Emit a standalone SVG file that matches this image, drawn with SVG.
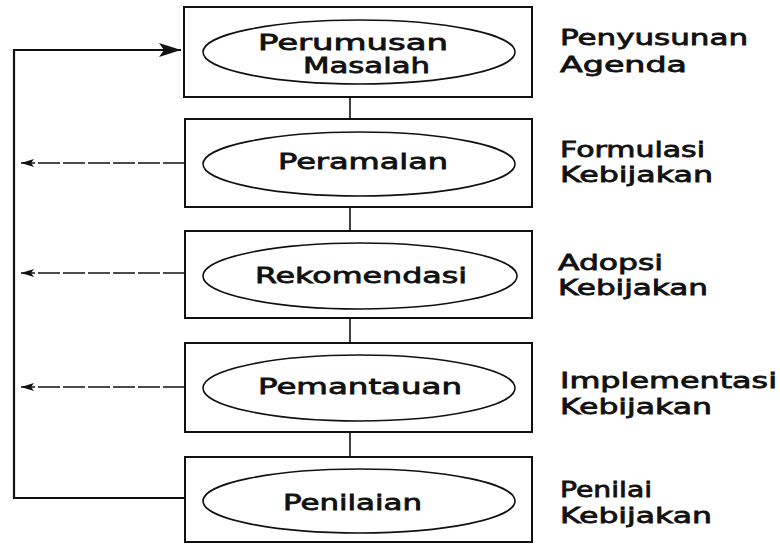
<svg xmlns="http://www.w3.org/2000/svg" width="780" height="545" viewBox="0 0 780 545">
<style>
.box{fill:#fff;stroke:#111;stroke-width:2}
.ell{fill:none;stroke:#111;stroke-width:1.6}
.t{font-family:"DejaVu Sans","Liberation Sans",sans-serif;font-size:22px;fill:#111;stroke:#111;stroke-width:0.8}
.link{fill:none;stroke:#111;stroke-width:1.6}
.fb{fill:none;stroke:#111;stroke-width:2.2}
.dash{fill:none;stroke:#111;stroke-width:1.6;stroke-dasharray:22 3}
</style>
<defs>
<marker id="bigArrow" markerUnits="userSpaceOnUse" markerWidth="24" markerHeight="14" refX="22" refY="7" orient="auto">
<path d="M0,0 L22,7 L0,14 L5,7 Z" fill="#111"/>
</marker>
<marker id="smallArrow" markerUnits="userSpaceOnUse" markerWidth="14" markerHeight="8" refX="13" refY="4" orient="auto">
<path d="M0,0 L13,4 L0,8 L3,4 Z" fill="#111"/>
</marker>
</defs>
<rect width="780" height="545" fill="#fff"/>
<g id="connectors">
<line class="link" x1="350" y1="97" x2="350" y2="119"/>
<line class="link" x1="350" y1="207" x2="350" y2="231"/>
<line class="link" x1="350" y1="318" x2="350" y2="343"/>
<line class="link" x1="350" y1="432" x2="350" y2="457"/>
<path class="fb" d="M185,498 L14,498 L14,50 L181,50" marker-end="url(#bigArrow)"/>
<line class="dash" x1="185" y1="163" x2="21" y2="163" marker-end="url(#smallArrow)"/>
<line class="dash" x1="185" y1="273" x2="21" y2="273" marker-end="url(#smallArrow)"/>
<line class="dash" x1="185" y1="387" x2="21" y2="387" marker-end="url(#smallArrow)"/>
</g>
<g id="node-perumusan">
<rect class="box" x="184" y="7" width="348" height="90"/>
<ellipse class="ell" cx="359" cy="52" rx="156" ry="32"/>
<text class="t" x="258" y="50" textLength="190" lengthAdjust="spacingAndGlyphs">Perumusan</text>
<text class="t" x="303" y="73" textLength="127" lengthAdjust="spacingAndGlyphs">Masalah</text>
</g>
<g id="node-peramalan">
<rect class="box" x="185" y="119" width="347" height="88"/>
<ellipse class="ell" cx="359" cy="164" rx="156" ry="32"/>
<text class="t" x="278" y="169" textLength="170" lengthAdjust="spacingAndGlyphs">Peramalan</text>
</g>
<g id="node-rekomendasi">
<rect class="box" x="185" y="231" width="347" height="87"/>
<ellipse class="ell" cx="360" cy="276" rx="157" ry="33"/>
<text class="t" x="255" y="283" textLength="212" lengthAdjust="spacingAndGlyphs">Rekomendasi</text>
</g>
<g id="node-pemantauan">
<rect class="box" x="185" y="343" width="347" height="89"/>
<ellipse class="ell" cx="359" cy="388" rx="156" ry="33"/>
<text class="t" x="258" y="394" textLength="204" lengthAdjust="spacingAndGlyphs">Pemantauan</text>
</g>
<g id="node-penilaian">
<rect class="box" x="185" y="457" width="347" height="85"/>
<ellipse class="ell" cx="359" cy="501" rx="156" ry="32"/>
<text class="t" x="283" y="510" textLength="139" lengthAdjust="spacingAndGlyphs">Penilaian</text>
</g>
<g id="label-agenda">
<text class="t" x="560" y="45" textLength="188" lengthAdjust="spacingAndGlyphs">Penyusunan</text>
<text class="t" x="560" y="72" textLength="127" lengthAdjust="spacingAndGlyphs">Agenda</text>
</g>
<g id="label-formulasi">
<text class="t" x="560" y="157" textLength="145" lengthAdjust="spacingAndGlyphs">Formulasi</text>
<text class="t" x="560" y="182" textLength="153" lengthAdjust="spacingAndGlyphs">Kebijakan</text>
</g>
<g id="label-adopsi">
<text class="t" x="558" y="270" textLength="105" lengthAdjust="spacingAndGlyphs">Adopsi</text>
<text class="t" x="558" y="295" textLength="150" lengthAdjust="spacingAndGlyphs">Kebijakan</text>
</g>
<g id="label-implementasi">
<text class="t" x="560" y="388" textLength="217" lengthAdjust="spacingAndGlyphs">Implementasi</text>
<text class="t" x="560" y="414" textLength="152" lengthAdjust="spacingAndGlyphs">Kebijakan</text>
</g>
<g id="label-penilai">
<text class="t" x="560" y="497" textLength="92" lengthAdjust="spacingAndGlyphs">Penilai</text>
<text class="t" x="560" y="523" textLength="152" lengthAdjust="spacingAndGlyphs">Kebijakan</text>
</g>
</svg>
